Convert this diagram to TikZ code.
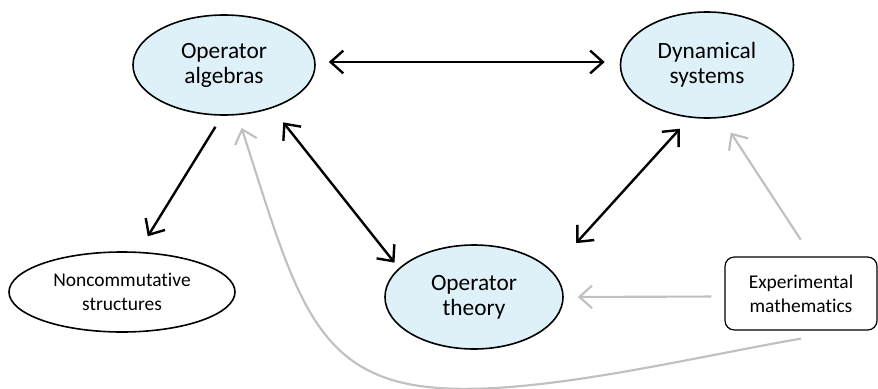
\documentclass[tikz,border=0pt]{standalone}
\usepackage{fontspec}
\setmainfont{Carlito}[Ligatures={NoCommon}]
\usetikzlibrary{arrows.meta,shapes.geometric}
\definecolor{ellfill}{RGB}{222,241,249}
\definecolor{lgray}{RGB}{192,192,192}
\newcommand{\bigtxt}{\fontsize{17.5}{18.75}\selectfont}
\newcommand{\smalltxt}{\fontsize{14.6}{18}\selectfont}
\tikzset{barb/.tip={Straight Barb[length=9.5pt,width=17pt]}}
\begin{document}
\begin{tikzpicture}[x=0.75pt,y=-0.75pt,
  blueell/.style={ellipse, draw, line width=1.2pt, fill=ellfill, inner sep=0pt, align=center, font=\bigtxt},
  whiteell/.style={ellipse, draw, line width=1.2pt, fill=white, inner sep=0pt, align=center, font=\smalltxt},
  embox/.style={rectangle, rounded corners=7pt, draw, line width=0.9pt, fill=white, inner sep=0pt, align=center, font=\smalltxt},
  blk/.style={draw=black, line width=1.8pt},
  gry/.style={draw=lgray, line width=1.6pt}]
\useasboundingbox (0,0) rectangle (878,389);
\node[blueell, minimum width=136.5pt, minimum height=75pt] (OA) at (224,65) {Operator\\algebras};
\node[blueell, minimum width=129.75pt, minimum height=79.5pt] (DS) at (707,65) {Dynamical\\systems};
\node[blueell, minimum width=133.5pt, minimum height=78pt] (OT) at (474,297) {Operator\\theory};
\node[whiteell, minimum width=169.5pt, minimum height=60pt] (NC) at (122,292) {Noncommutative\\structures};
\node[embox, minimum width=114pt, minimum height=54.75pt] (EM) at (801,293.5) {Experimental\\mathematics};
% black connectors
\draw[blk, barb-barb, shorten <=9.75pt, shorten >=11.25pt] ([yshift=2.25pt]OA.east) -- ([yshift=2.25pt]DS.west);
\draw[blk, -barb, shorten <=9.75pt, shorten >=13.5pt] (OA.-92.3) -- (NC.68.6);
\draw[blk, barb-barb, shorten <=13.5pt, shorten >=5.25pt] (OA.-42.6) -- (OT.159.1);
\draw[blk, barb-barb, shorten <=27.5pt, shorten >=11.1pt] (OT.19.4) -- (DS.-108.1);
% gray connectors
\draw[gry, -barb, shorten <=15pt, shorten >=13pt] (EM.74.7) -- (DS.-75.6);
\draw[gry, -barb, shorten <=9.75pt, shorten >=10.5pt] ([yshift=-2.25pt]EM.west) -- (OT.east);
\draw[gry, -barb, shorten >=10pt] ([yshift=-6pt]EM.south)
  .. controls (684,358.8) and (519,400) .. (420,386)
  .. controls (311,370.6) and (292.6,285.7) .. (OA.-75.3);
\end{tikzpicture}
\end{document}
